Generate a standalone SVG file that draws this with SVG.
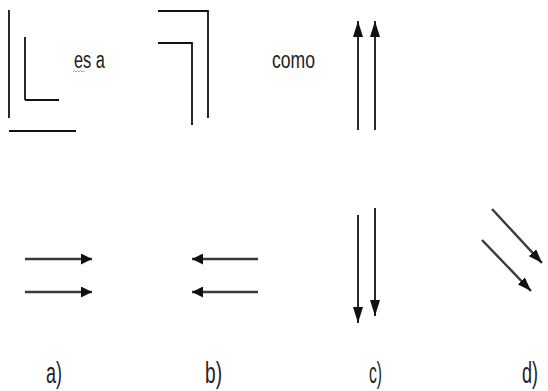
<svg xmlns="http://www.w3.org/2000/svg" width="548" height="391" viewBox="0 0 548 391">
<style>
.ln{stroke:#111;stroke-width:1.8;fill:none}
.ar{stroke:#111;stroke-width:1.8;fill:none}
.ag{stroke:#3a3a3a;stroke-width:2.4;fill:none}
.t{font-family:"Liberation Sans",Arial,sans-serif;fill:#222}
</style>
<defs>
<marker id="hv" viewBox="0 0 16 10" refX="16" refY="5" markerWidth="16" markerHeight="10" markerUnits="userSpaceOnUse" orient="auto"><path d="M0,0 L16,5 L0,10 Z" fill="#111"/></marker>
<marker id="hh" viewBox="0 0 11 11" refX="11" refY="5.5" markerWidth="11" markerHeight="11" markerUnits="userSpaceOnUse" orient="auto"><path d="M0,0 L11,5.5 L0,11 Z" fill="#111"/></marker>
<marker id="hd" viewBox="0 0 14 10" refX="14" refY="5" markerWidth="14" markerHeight="10" markerUnits="userSpaceOnUse" orient="auto"><path d="M0,0 L14,5 L0,10 Z" fill="#111"/></marker>
</defs>
<rect width="548" height="391" fill="#fff"/>
<g id="panel-corner-L">
<line class="ln" x1="9" y1="10" x2="9" y2="118"/>
<line class="ln" x1="9" y1="131" x2="76" y2="131"/>
<line class="ln" x1="25" y1="37" x2="25" y2="100"/>
<line class="ln" x1="25" y1="100" x2="59" y2="100"/>
</g>
<g id="text-es-a">
<text class="t" x="74" y="68" font-size="23" textLength="31" lengthAdjust="spacingAndGlyphs">es a</text>
<path d="M73,72 l1.5,-1.5 l1.5,1.5 l1.5,-1.5 l1.5,1.5 l1.5,-1.5 l1.5,1.5 l1.5,-1.5 l1.5,1.5" stroke="#8a8a8a" stroke-width="0.8" fill="none"/>
</g>
<g id="panel-corner-R">
<polyline class="ln" points="158,11 208,11 208,118"/>
<polyline class="ln" points="158,43 192,43 192,125"/>
</g>
<g id="text-como">
<text class="t" x="272" y="68" font-size="23" textLength="43" lengthAdjust="spacingAndGlyphs">como</text>
</g>
<g id="connectors">
<line class="ar" x1="358" y1="130" x2="358" y2="21" marker-end="url(#hv)"/>
<line class="ar" x1="375" y1="130" x2="375" y2="21" marker-end="url(#hv)"/>
<line class="ag" x1="25" y1="259" x2="92" y2="259" marker-end="url(#hh)"/>
<line class="ag" x1="25" y1="292" x2="92" y2="292" marker-end="url(#hh)"/>
<line class="ag" x1="258" y1="259" x2="192" y2="259" marker-end="url(#hh)"/>
<line class="ag" x1="258" y1="292" x2="192" y2="292" marker-end="url(#hh)"/>
<line class="ar" x1="358" y1="215" x2="358" y2="323" marker-end="url(#hv)"/>
<line class="ar" x1="375" y1="208" x2="375" y2="316" marker-end="url(#hv)"/>
<line class="ag" x1="492" y1="209" x2="542" y2="263" marker-end="url(#hd)"/>
<line class="ag" x1="482" y1="240" x2="531" y2="291" marker-end="url(#hd)"/>
</g>
<g id="labels">
<text class="t" x="46" y="383" font-size="29" textLength="16" lengthAdjust="spacingAndGlyphs">a)</text>
<text class="t" x="205" y="383" font-size="29" textLength="17" lengthAdjust="spacingAndGlyphs">b)</text>
<text class="t" x="369" y="383" font-size="29" textLength="13" lengthAdjust="spacingAndGlyphs">c)</text>
<text class="t" x="522" y="383" font-size="29" textLength="16" lengthAdjust="spacingAndGlyphs">d)</text>
</g>
</svg>
